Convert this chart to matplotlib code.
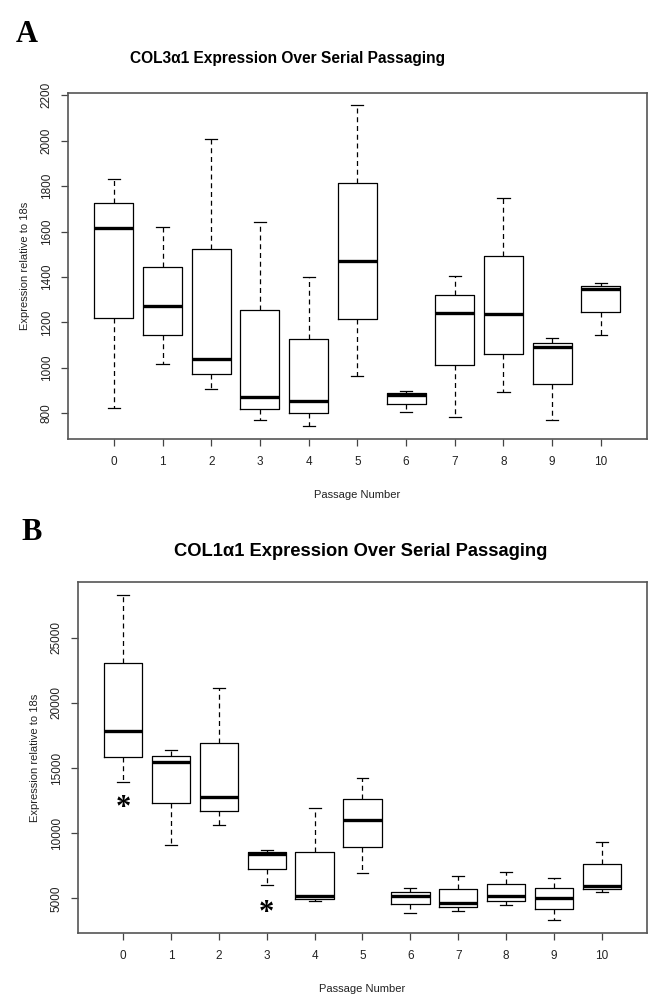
import matplotlib
matplotlib.use("Agg")
import matplotlib.pyplot as plt

passage = list(range(11))

# COL3a1 (panel A): whisker low, Q1, median, Q3, whisker high
col3_lo = [823, 1016, 906, 771, 743, 962, 806, 784, 891, 768, 1143]
col3_q1 = [1219, 1144, 973, 820, 800, 1215, 842, 1011, 1062, 929, 1244]
col3_med = [1617, 1272, 1037, 870, 853, 1469, 882, 1240, 1235, 1092, 1345]
col3_q3 = [1724, 1442, 1521, 1256, 1125, 1812, 888, 1320, 1490, 1109, 1359]
col3_hi = [1832, 1618, 2008, 1641, 1400, 2158, 898, 1402, 1746, 1130, 1375]

# COL1a1 (panel B)
col1_lo = [13900, 9118, 10652, 6049, 4796, 6970, 3901, 4054, 4489, 3338, 5461]
col1_q1 = [15870, 12289, 11701, 7225, 4975, 8965, 4540, 4335, 4821, 4156, 5691]
col1_med = [17839, 15486, 12750, 8402, 5154, 10985, 5205, 4617, 5179, 5051, 5947]
col1_q3 = [23031, 15946, 16893, 8555, 8581, 12596, 5486, 5691, 6074, 5819, 7609]
col1_hi = [28299, 16407, 21113, 8709, 11957, 14207, 5793, 6688, 7021, 6586, 9297]

# significance marks in panel B
star_pos = [0, 3]
star_y = [12417, 4361]


def make_stats(lo, q1, med, q3, hi):
    return [dict(whislo=a, q1=b, med=c, q3=d, whishi=e, fliers=[])
            for a, b, c, d, e in zip(lo, q1, med, q3, hi)]


def draw_panel(ax, stats, ylim, yticks):
    ax.bxp(stats, positions=passage, widths=0.8, capwidths=0.25,
           boxprops=dict(color="black", linewidth=0.9),
           medianprops=dict(color="black", linewidth=2.4),
           whiskerprops=dict(color="black", linewidth=0.9, linestyle=(0, (4, 3))),
           capprops=dict(color="black", linewidth=0.9))
    ax.set_xlim(-0.94, 10.94)
    ax.set_ylim(*ylim)
    ax.set_xticks(passage)
    ax.set_xticklabels([str(p) for p in passage])
    ax.set_yticks(yticks)
    ax.set_yticklabels([str(t) for t in yticks], rotation=90, va="center")
    ax.tick_params(length=5, width=0.9, color="#444", labelsize=8.5,
                   labelcolor="#222", pad=7)
    ax.tick_params(axis="y", pad=6)
    for s in ax.spines.values():
        s.set_color("#555")
        s.set_linewidth(1.2)
    ax.set_xlabel("Passage Number", fontsize=8, color="#222", labelpad=16)
    ax.set_ylabel("Expression relative to 18s", fontsize=8, color="#222",
                  labelpad=8)


fig = plt.figure(figsize=(6.48, 9.96), dpi=100)
plt.rcParams["font.family"] = ["Liberation Sans", "DejaVu Sans"]

axA = fig.add_axes([0.105, 0.5592, 0.893, 0.3474])
draw_panel(axA, make_stats(col3_lo, col3_q1, col3_med, col3_q3, col3_hi),
           (686, 2210), list(range(800, 2201, 200)))

axB = fig.add_axes([0.1204, 0.0629, 0.878, 0.3531])
draw_panel(axB, make_stats(col1_lo, col1_q1, col1_med, col1_q3, col1_hi),
           (2315, 29300), list(range(5000, 25001, 5000)))
for p, y in zip(star_pos, star_y):
    axB.annotate("*", (p, y), xytext=(0, -5), textcoords="offset points",
                 ha="center", va="center", fontsize=22, fontweight="bold",
                 family="Liberation Serif")

fig.text(288 / 648, 1 - 59 / 996, "COL3\u03b11 Expression Over Serial Passaging",
         ha="center", va="center", fontsize=11.2, fontweight="bold")
fig.text(361 / 648, 1 - 552 / 996, "COL1\u03b11 Expression Over Serial Passaging",
         ha="center", va="center", fontsize=13.2, fontweight="bold")
fig.text(16 / 648, 1 - 34 / 996, "A", ha="left", va="center", fontsize=22,
         fontweight="bold", family="Liberation Serif")
fig.text(21 / 648, 1 - 533 / 996, "B", ha="left", va="center", fontsize=22,
         fontweight="bold", family="Liberation Serif")

fig.savefig("out.png", dpi=100)
